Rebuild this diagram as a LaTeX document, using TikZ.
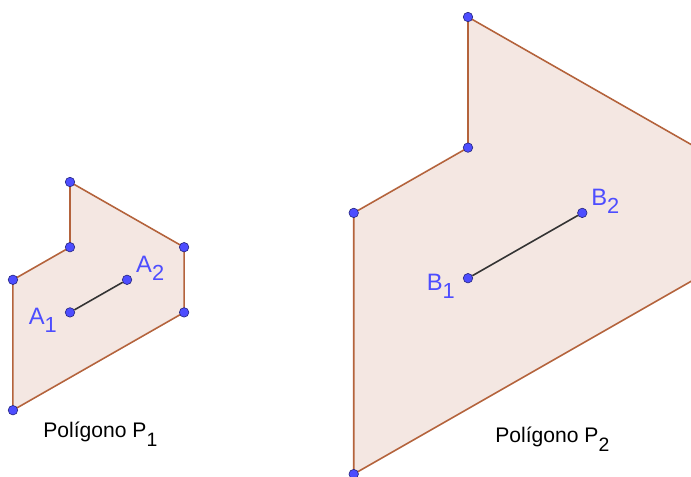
\documentclass[tikz,border=0pt]{standalone}
\usepackage{fontspec}
\setmainfont{Liberation Sans}
\usetikzlibrary{positioning}
\definecolor{polyedge}{HTML}{B4633C}
\definecolor{polyfill}{HTML}{F4E7E2}
\definecolor{ptblue}{HTML}{4D4DFF}
\definecolor{segdark}{HTML}{333333}
\newcommand{\lowidx}[2][0.33em]{\raisebox{-#1}{\scalebox{0.92}{#2}}}
\tikzset{
  polyarea/.style={draw=polyedge, fill=polyfill, line width=0.9pt, line join=round},
  segline/.style={draw=segdark, line width=0.9pt},
  dot/.style={circle, fill=ptblue, draw=ptblue!50!black, line width=0.35pt,
    inner sep=0pt, minimum size=5.4pt},
  ptlabel/.style={text=ptblue, font=\fontsize{13.5}{15}\selectfont, inner sep=0pt},
  captext/.style={font=\fontsize{12}{14}\selectfont, inner sep=0pt}
}

\begin{document}
\begin{tikzpicture}[x=0.02cm,y=-0.02cm]
  \useasboundingbox (0,0) rectangle (691,477);
  \clip (0,0) rectangle (691,477);
  % same outline twice, P2 is P1 scaled by 2
  \foreach \pid/\ox/\oy/\unit/\lab in {1/70/182/32.6/A, 2/468/17/65.3/B} {
    \begin{scope}[shift={(\ox,\oy)}, x={\unit*0.02cm}, y={-\unit*0.02cm}]
      \coordinate (v\pid1) at (0,0);
      \coordinate (v\pid2) at (0,2);
      \coordinate (v\pid3) at (-1.75,3);
      \coordinate (v\pid4) at (-1.75,7);
      \coordinate (v\pid5) at (3.5,4);
      \coordinate (v\pid6) at (3.5,2);
      \path[polyarea] (v\pid1) -- (v\pid2) -- (v\pid3) -- (v\pid4)
        -- (v\pid5) -- (v\pid6) -- cycle;
      \foreach \k in {1,...,6} \node[dot] (d\pid\k) at (v\pid\k) {};
      \node[dot] (\lab1) at (0,4) {};
      \node[dot] (\lab2) at (1.75,3) {};
      \draw[segline] (\lab1) -- (\lab2);
      \node[ptlabel, anchor=east, xshift=-7.3pt, yshift=-4.5pt] (\lab1lab) at (\lab1) {\lab\lowidx{1}};
      \node[ptlabel, anchor=west, xshift=5pt, yshift=6.5pt] (\lab2lab) at (\lab2) {\lab\lowidx{2}};
    \end{scope}
  }
  \node[captext, anchor=base west] (capP1) at (43,437) {Polígono P\lowidx[0.45em]{1}};
  \node[captext, anchor=base west] (capP2) at (495,442) {Polígono P\lowidx[0.45em]{2}};
\end{tikzpicture}
\end{document}
